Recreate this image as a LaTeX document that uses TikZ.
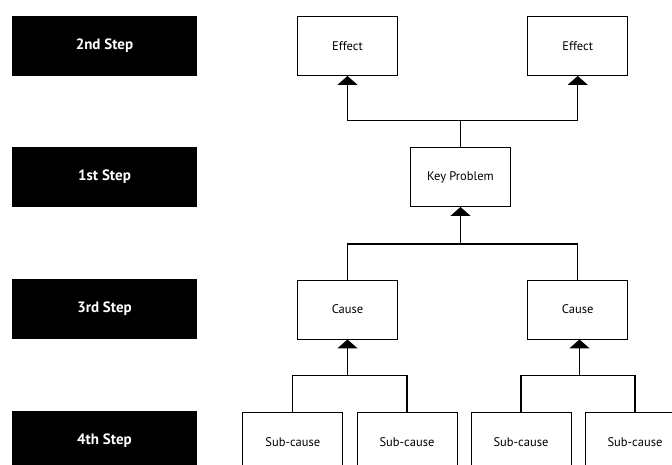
\documentclass[tikz,border=0pt]{standalone}
\usepackage{fontspec}
\setmainfont{PT Sans}
\usetikzlibrary{arrows.meta}
\tikzset{stepbox/.style={fill=black,text=white,font=\fontsize{15}{15}\bfseries\selectfont,
    minimum width=185pt,minimum height=60pt,inner sep=0pt}}
\tikzset{box/.style={draw,line width=0.9pt,font=\fontsize{12.5}{12.5}\selectfont,
    minimum width=100pt,minimum height=59pt,inner sep=0pt}}
\tikzset{ln/.style={line width=1.2pt}}
\tikzset{tip/.style={ln,-{Triangle[width=20pt,length=9pt]}}}

\begin{document}
\begin{tikzpicture}[x=1pt,y=-1pt]
        \useasboundingbox (0,0) rectangle (672,464);
        \clip (0,0) rectangle (672,464);
        % step labels
        \node[stepbox] (s2) at (104.5,46) {2nd Step};
        \node[stepbox] (s1) at (104.5,177) {1st Step};
        \node[stepbox] (s3) at (104.5,309) {3rd Step};
        \node[stepbox] (s4) at (104.5,441) {4th Step};
        % tree
        \node[box] (e1) at (347.5,46) {Effect};
        \node[box] (e2) at (577.7,46) {Effect};
        \node[box] (kp) at (460.5,177) {Key Problem};
        \node[box] (c1) at (347.5,309.5) {Cause};
        \node[box] (c2) at (577.7,309.5) {Cause};
        \node[box] (sc1) at (292.8,442) {Sub-cause};
        \node[box] (sc2) at (407,442) {Sub-cause};
        \node[box] (sc3) at (521,442) {Sub-cause};
        \node[box] (sc4) at (635,442) {Sub-cause};
        \coordinate (j1) at (460.5,120.7);
        \coordinate (j2) at (460.5,244);
        \coordinate (j3) at (347.5,375.3);
        \coordinate (j4) at (579.5,375.3);
        \draw[ln] (kp) -- (j1);
        \draw[tip] (j1) -| (e1);
        \draw[tip] (j1) -| (e2);
        \draw[tip] (j2) -- (kp);
        \draw[ln] (c1) |- (j2) -| (c2);
        \draw[tip] (j3) -- (c1);
        \draw[tip] (j4) -- (j4 |- c2.south);
        \draw[ln] (sc1) |- (j3) -| (sc2);
        \draw[ln] (sc3) |- (j4) -| (sc4);
      \end{tikzpicture}
\end{document}
